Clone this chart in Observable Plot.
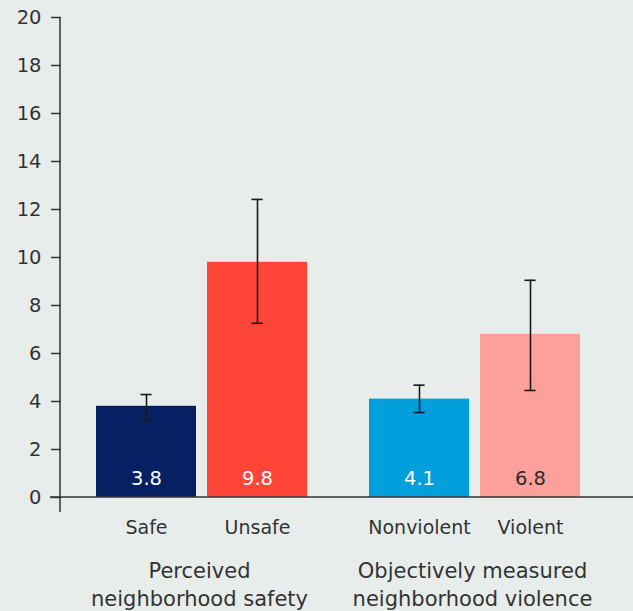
<!DOCTYPE html>
<html>
<head>
<meta charset="utf-8">
<script src="https://cdn.jsdelivr.net/npm/d3@7"></script>
<script src="https://cdn.jsdelivr.net/npm/@observablehq/plot@0.6"></script>
<style>
  html, body { margin: 0; padding: 0; background: #E8EDEB; }
</style>
</head>
<body>
<div id="chart"></div>
<script>
// ---- data ----
const categories = ["Safe", "Unsafe", "Nonviolent", "Violent"];
const groupOf = [0, 0, 1, 1];
const groupLabels = ["Perceived\nneighborhood safety", "Objectively measured\nneighborhood violence"];
const values = [3.8, 9.8, 4.1, 6.8];
const lower = [3.21, 7.26, 3.54, 4.46];
const upper = [4.29, 12.42, 4.68, 9.05];
const yTicks = [0, 2, 4, 6, 8, 10, 12, 14, 16, 18, 20];
const barColors = ["#052163", "#FE4538", "#019FDC", "#FEA09A"];

const slotOf = categories.map((c, i) => groupOf.slice(0, i).filter(g => g === groupOf[i]).length);
const rows = categories.map((c, i) => ({
  category: c,
  group: groupLabels[groupOf[i]],
  slot: slotOf[i],
  value: values[i],
  lower: lower[i],
  upper: upper[i]
}));
const groupRows = groupLabels.map(g => ({ group: g }));

const ink = "#333333";
const font = "'DejaVu Sans', Verdana, sans-serif";

const chart = Plot.plot({
  width: 633,
  height: 611,
  marginLeft: 60,
  marginRight: 52,
  marginTop: 17,
  marginBottom: 114,
  style: { background: "#E8EDEB", fontFamily: font, fontSize: "19px", color: ink },
  fx: { domain: groupLabels, paddingInner: 0.0985, paddingOuter: 0, axis: null },
  x: { type: "band", domain: [0, 1], paddingInner: 0.1, paddingOuter: 0.152, align: 1, axis: null },
  y: { domain: [0, 20], axis: null },
  color: { domain: categories, range: barColors },
  marks: [
    Plot.axisY({ ticks: yTicks, tickSize: 10, tickPadding: 10, label: null, stroke: ink, fill: ink, strokeWidth: 1.5, fontSize: 19.5 }),
    Plot.barY(rows, { fx: "group", x: "slot", y: "value", fill: "category" }),
    Plot.ruleX(rows, { fx: "group", x: "slot", y1: "lower", y2: "upper", stroke: "#1a1a1a", strokeWidth: 1.6 }),
    Plot.tickY(rows, { fx: "group", x: "slot", y: "upper", stroke: "#1a1a1a", strokeWidth: 1.6, insetLeft: 44.4, insetRight: 44.4 }),
    Plot.tickY(rows, { fx: "group", x: "slot", y: "lower", stroke: "#1a1a1a", strokeWidth: 1.6, insetLeft: 44.4, insetRight: 44.4 }),
    Plot.text(rows, { fx: "group", x: "slot", y: 0, text: d => d.value.toFixed(1), dy: -19, fontSize: 19.5,
      fill: d => d.category === "Violent" ? "#2b2b2b" : "#ffffff" }),
    Plot.text(rows, { fx: "group", x: "slot", text: "category", frameAnchor: "bottom", dy: 36, fontSize: 19, fill: ink }),
    Plot.text(groupRows, { fx: "group", x: () => 1, text: "group", frameAnchor: "bottom", lineAnchor: "top",
      dy: 61, dx: -58, fontSize: 21, lineHeight: 1.33, fill: ink })
  ]
});

document.getElementById("chart").appendChild(chart);

// axis line and baseline drawn from the plot's own y scale
const ys = chart.scale("y");
const svg = d3.select(chart);
svg.append("line")
  .attr("x1", 60).attr("x2", 60)
  .attr("y1", ys.apply(20)).attr("y2", ys.apply(-0.625))
  .attr("stroke", ink).attr("stroke-width", 1.5);
svg.append("line")
  .attr("x1", 50).attr("x2", 633)
  .attr("y1", ys.apply(0)).attr("y2", ys.apply(0))
  .attr("stroke", ink).attr("stroke-width", 1.5);
</script>
</body>
</html>
